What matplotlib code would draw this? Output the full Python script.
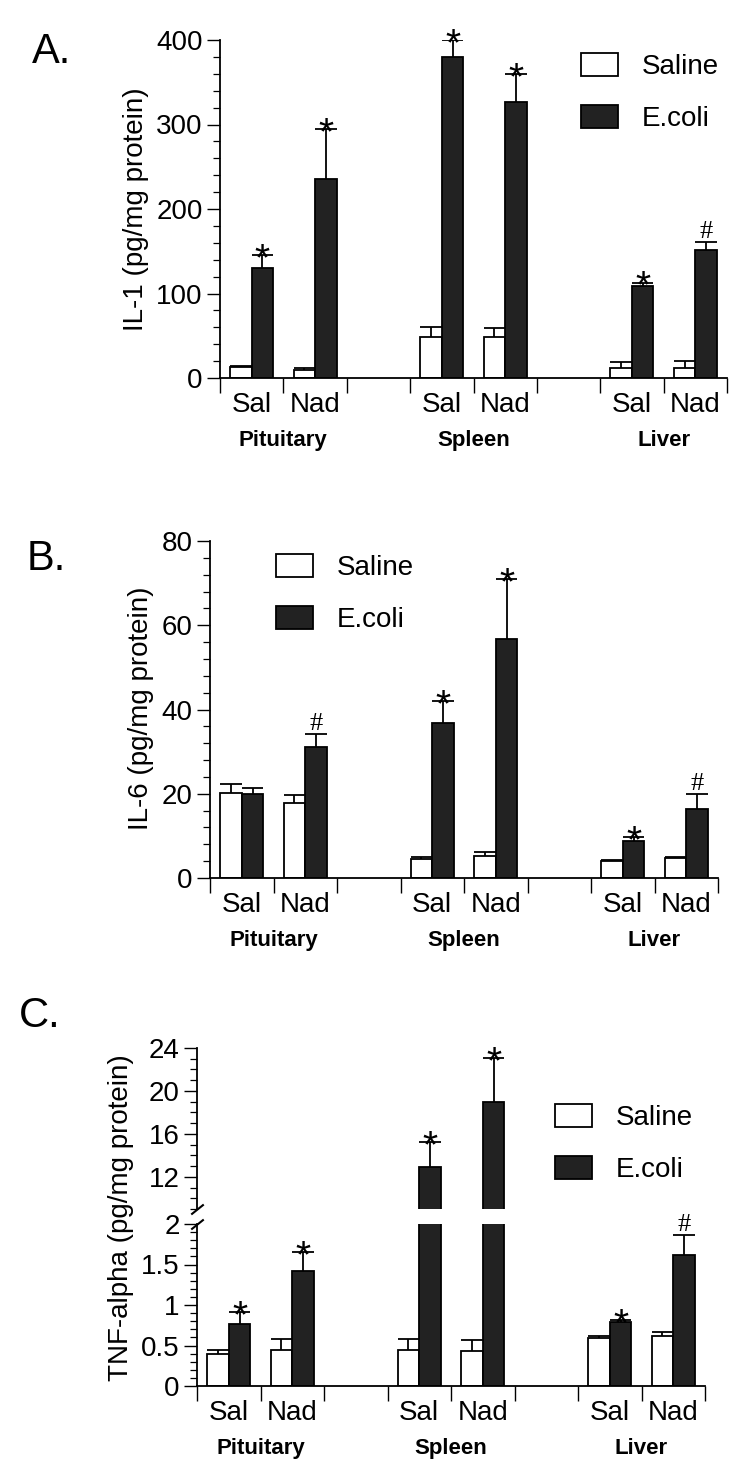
import numpy as np
import matplotlib
matplotlib.use("Agg")
import matplotlib.pyplot as plt
from matplotlib.patches import Patch
from matplotlib.ticker import MultipleLocator, FormatStrFormatter

plt.rcParams['font.family'] = ['Liberation Sans', 'DejaVu Sans']
plt.rcParams['font.size'] = 20

# Data (means, upper error bars, significance marks)
tissues = ['Pituitary', 'Spleen', 'Liver']
treatments = ['Sal', 'Nad']
series_names = ['Saline', 'E.coli']

il1_saline = [13, 10, 48, 48, 12, 12]
il1_saline_err = [1.5, 1.5, 12, 11, 7, 8]
il1_ecoli = [130, 236, 380, 327, 109, 151]
il1_ecoli_err = [16, 59, 20, 33, 4, 10]
il1_marks = ['*', '*', '*', '*', '*', '#']

il6_saline = [20.2, 17.9, 4.6, 5.3, 4.0, 4.7]
il6_saline_err = [2.2, 1.9, 0.5, 0.8, 0.2, 0.3]
il6_ecoli = [20.0, 31.0, 36.9, 56.8, 8.9, 16.4]
il6_ecoli_err = [1.3, 3.2, 5.0, 14.2, 0.8, 3.5]
il6_marks = ['', '#', '*', '*', '*', '#']

tnf_saline = [0.39, 0.44, 0.44, 0.43, 0.59, 0.62]
tnf_saline_err = [0.05, 0.145, 0.14, 0.14, 0.03, 0.05]
tnf_ecoli = [0.77, 1.42, 12.9, 19.0, 0.79, 1.615]
tnf_ecoli_err = [0.14, 0.24, 2.3, 4.1, 0.03, 0.25]
tnf_marks = ['*', '*', '*', '*', '*', '#']

# layout: 8 slots on the x axis, one empty slot between tissues
slots = np.array([g * 3 + t for g in range(len(tissues)) for t in range(len(treatments))])
centers = slots + 0.5
bw = 0.34
dark = '#222222'
lw = 1.3

W, H = 750, 1472
fig = plt.figure(figsize=(W / 100, H / 100), dpi=100)


def px_rect(left, top, right, bottom):
    return [left / W, 1 - bottom / H, (right - left) / W, (bottom - top) / H]


def style_axis(ax, show_x=True):
    for s in ['top', 'right']:
        ax.spines[s].set_visible(False)
    ax.spines['left'].set_linewidth(lw)
    ax.spines['bottom'].set_linewidth(lw)
    ax.set_xlim(0, 8)
    ax.tick_params(axis='y', which='major', length=9.5, width=1.0, pad=3, labelsize=20)
    ax.tick_params(axis='y', which='minor', length=5, width=0.9)
    if show_x:
        ax.set_xticks(np.arange(0, 9))
        ax.set_xticklabels([])
        ax.tick_params(axis='x', which='major', length=11, width=1.0)
        ax.set_xticks(centers, minor=True)
        ax.set_xticklabels(treatments * len(tissues), minor=True)
        ax.tick_params(axis='x', which='minor', length=0, pad=10, labelsize=20)
        for g, name in enumerate(tissues):
            ax.annotate(name, xy=(g * 3 + 1, 0), xycoords=('data', 'axes fraction'),
                        xytext=(0, -45), textcoords='offset points',
                        ha='center', va='center', fontsize=16, fontweight='bold')
    else:
        ax.spines['bottom'].set_visible(False)
        ax.set_xticks([])


def draw_pairs(ax, sal, sal_err, eco, eco_err, marks, lo, hi):
    sal = np.array(sal, float)
    eco = np.array(eco, float)
    xs = centers - bw / 2
    xe = centers + bw / 2
    ax.bar(xs, sal, bw, color='white', edgecolor='black', linewidth=lw, zorder=2)
    ax.bar(xe, eco, bw, color=dark, edgecolor='black', linewidth=lw, zorder=2)
    for x, v, e, m in zip(list(xs) + list(xe), list(sal) + list(eco),
                          list(sal_err) + list(eco_err), [''] * len(sal) + list(marks)):
        if not (lo < v + e <= hi):
            continue
        ax.vlines(x, v, v + e, color='black', linewidth=lw, zorder=3)
        ax.hlines(v + e, x - bw / 2, x + bw / 2, color='black', linewidth=lw, zorder=3)
        if m == '*':
            ax.annotate('*', xy=(x, v + e), xytext=(0, -11), textcoords='offset points',
                        ha='center', va='baseline', fontsize=28, zorder=4)
        elif m == '#':
            ax.annotate('#', xy=(x, v + e), xytext=(0, 3), textcoords='offset points',
                        ha='center', va='baseline', fontsize=19,
                        family=['Liberation Serif', 'DejaVu Serif'], zorder=4)


def add_legend(ax, left, top):
    handles = [Patch(facecolor='white', edgecolor='black', linewidth=lw),
               Patch(facecolor=dark, edgecolor='black', linewidth=lw)]
    ax.legend(handles, series_names, loc='upper left', bbox_to_anchor=(left / W, 1 - top / H),
              bbox_transform=fig.transFigure, frameon=False, fontsize=20, borderpad=0,
              borderaxespad=0, handlelength=1.33, handleheight=0.9, handletextpad=0.85,
              labelspacing=0.9)


# Panel A
axA = fig.add_axes(px_rect(220, 40, 727, 378))
draw_pairs(axA, il1_saline, il1_saline_err, il1_ecoli, il1_ecoli_err, il1_marks, 0, 400)
axA.set_ylim(0, 400)
axA.set_yticks(np.arange(0, 401, 100))
axA.yaxis.set_minor_locator(MultipleLocator(20))
style_axis(axA)
add_legend(axA, 581, 53)
fig.text(136 / W, 1 - 209 / H, 'IL-1 (pg/mg protein)', rotation=90, ha='center', va='center', fontsize=20)
fig.text(32 / W, 1 - 63 / H, 'A.', fontsize=30, ha='left', va='baseline')

# Panel B
axB = fig.add_axes(px_rect(210, 541, 718, 878))
draw_pairs(axB, il6_saline, il6_saline_err, il6_ecoli, il6_ecoli_err, il6_marks, 0, 80)
axB.set_ylim(0, 80)
axB.set_yticks(np.arange(0, 81, 20))
axB.yaxis.set_minor_locator(MultipleLocator(4))
style_axis(axB)
add_legend(axB, 276, 554)
fig.text(141 / W, 1 - 708 / H, 'IL-6 (pg/mg protein)', rotation=90, ha='center', va='center', fontsize=20)
fig.text(27 / W, 1 - 570 / H, 'B.', fontsize=30, ha='left', va='baseline')

# Panel C (broken y axis)
axCt = fig.add_axes(px_rect(197, 1048, 705, 1209))
axCb = fig.add_axes(px_rect(197, 1224, 705, 1386))
draw_pairs(axCt, tnf_saline, tnf_saline_err, tnf_ecoli, tnf_ecoli_err, tnf_marks, 9, 24)
draw_pairs(axCb, tnf_saline, tnf_saline_err, tnf_ecoli, tnf_ecoli_err, tnf_marks, 0, 2)
axCt.set_ylim(9, 24)
axCt.set_yticks([12, 16, 20, 24])
axCt.yaxis.set_minor_locator(MultipleLocator(1))
style_axis(axCt, show_x=False)
axCb.set_ylim(0, 2)
axCb.set_yticks([0, 0.5, 1, 1.5, 2])
axCb.yaxis.set_major_formatter(FormatStrFormatter('%g'))
axCb.yaxis.set_minor_locator(MultipleLocator(0.1))
style_axis(axCb)
brk = dict(marker=[(-1, -0.8), (1, 0.8)], markersize=9, linestyle='none',
           color='k', mec='k', mew=1.5, clip_on=False)
axCt.plot([0], [0], transform=axCt.transAxes, **brk)
axCb.plot([0], [1], transform=axCb.transAxes, **brk)
add_legend(axCt, 555, 1104)
fig.text(121 / W, 1 - 1218 / H, 'TNF-alpha (pg/mg protein)', rotation=90, ha='center', va='center', fontsize=20)
fig.text(19 / W, 1 - 1027 / H, 'C.', fontsize=30, ha='left', va='baseline')

fig.savefig('out.png', dpi=100)
